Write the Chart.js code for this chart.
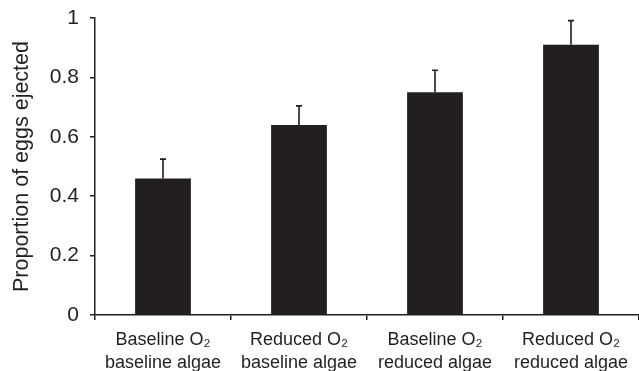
<!DOCTYPE html>
<html>
<head>
<meta charset="utf-8">
<script src="https://cdn.jsdelivr.net/npm/chart.js@4"></script>
<style>
  html, body { margin: 0; padding: 0; background: #fff; }
  #wrap { width: 639px; height: 371px; }
</style>
</head>
<body>
<div id="wrap"><canvas id="eggChart" width="639" height="371"></canvas></div>
<script>
// group labels, mean proportion and upper error per group
const groups = [
    ['Baseline O\u2082', 'baseline algae'],
    ['Reduced O\u2082', 'baseline algae'],
    ['Baseline O\u2082', 'reduced algae'],
    ['Reduced O\u2082', 'reduced algae']
];
const proportions = [0.46, 0.64, 0.75, 0.91];
const errors = [0.065, 0.064, 0.074, 0.081];
const yTicks = [0, 0.2, 0.4, 0.6, 0.8, 1];

const ink = '#231f20';

// draws the upper error bar with a small cap on each bar
const errorBars = {
    id: 'errorBars',
    afterDatasetsDraw(chart) {
        const ctx = chart.ctx;
        const meta = chart.getDatasetMeta(0);
        const y = chart.scales.y;
        ctx.save();
        ctx.strokeStyle = ink;
        ctx.lineWidth = 1.6;
        meta.data.forEach((bar, i) => {
            const top = y.getPixelForValue(proportions[i] + errors[i]);
            ctx.beginPath();
            ctx.moveTo(bar.x, bar.y);
            ctx.lineTo(bar.x, top);
            ctx.moveTo(bar.x - 3, top);
            ctx.lineTo(bar.x + 3, top);
            ctx.stroke();
        });
        ctx.restore();
    }
};

const ctx = document.getElementById('eggChart').getContext('2d');
new Chart(ctx, {
    type: 'bar',
    data: {
        labels: groups,
        datasets: [{
            data: proportions,
            backgroundColor: ink,
            borderWidth: 0,
            barPercentage: 0.41,
            categoryPercentage: 1
        }]
    },
    options: {
        responsive: false,
        animation: false,
        layout: { padding: { top: 18, right: 0, left: 0, bottom: 0 } },
        plugins: {
            legend: { display: false },
            tooltip: { enabled: false }
        },
        scales: {
            x: {
                offset: true,
                border: { color: ink, width: 1.5 },
                grid: { display: true, drawOnChartArea: false, offset: true, tickLength: 5, color: ink, lineWidth: 1.5 },
                ticks: {
                    color: ink,
                    padding: 8,
                    maxRotation: 0,
                    autoSkip: false,
                    font: { family: 'Liberation Sans, Arial, sans-serif', size: 18, lineHeight: 1.3 }
                },
                afterFit(scale) { scale.height = 56; }
            },
            y: {
                min: 0,
                max: 1,
                border: { color: ink, width: 1.5 },
                grid: { display: true, drawOnChartArea: false, tickLength: 5, color: ink, lineWidth: 1.5 },
                afterBuildTicks(scale) {
                    scale.ticks = yTicks.map(v => ({ value: v }));
                },
                ticks: {
                    color: ink,
                    padding: 11,
                    font: { family: 'Liberation Sans, Arial, sans-serif', size: 21 },
                    callback: v => String(v)
                },
                title: {
                    display: true,
                    text: 'Proportion of eggs ejected',
                    color: ink,
                    padding: { top: 9, bottom: 0 },
                    font: { family: 'Liberation Sans, Arial, sans-serif', size: 21.5 }
                },
                afterFit(scale) {
                    scale.width = 95;
                    scale.paddingTop = 0;
                    scale.paddingBottom = 0;
                }
            }
        }
    },
    plugins: [errorBars]
});
</script>
</body>
</html>
